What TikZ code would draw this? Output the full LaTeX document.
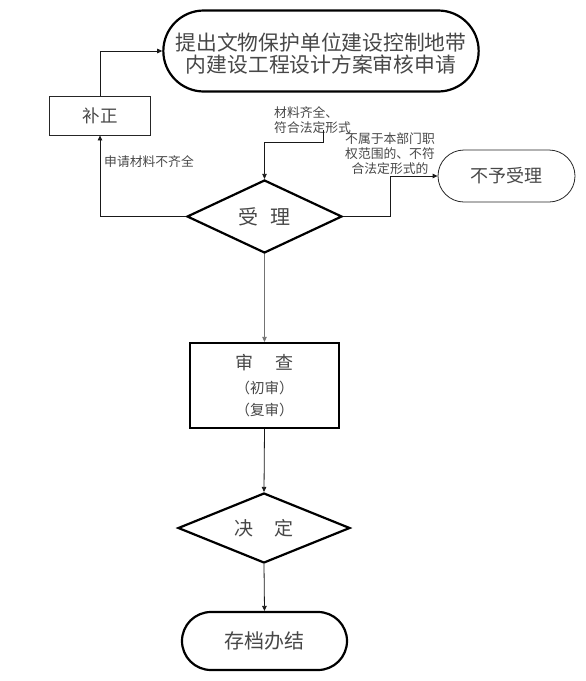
\documentclass[tikz,border=0pt]{standalone}
\usepackage{fontspec}
\setmainfont{Noto Sans CJK SC}
\usetikzlibrary{shapes.geometric,shapes.misc,arrows.meta}
\tikzset{
  thickln/.style={draw=black, line width=2.2pt},
  thinln/.style={draw=black!85, line width=0.8pt},
  txt/.style={text=black!72, inner sep=0pt},
  conn/.style={draw=black!90, line width=0.8pt, -{Triangle[length=5pt,width=4.5pt]}},
  lbl/.style={text=black!72, inner sep=0pt, font=\fontsize{12.8}{15}\selectfont},
}
\begin{document}
\begin{tikzpicture}[x=1pt,y=-1pt]
\useasboundingbox (0,0) rectangle (586,681);
\node[thickln, rounded rectangle, minimum width=322pt, minimum height=81pt] (top) at (321,51) {};
\node[txt, align=center, font=\fontsize{20.8}{22}\selectfont] (toptxt) at (321,54)
  {提出文物保护单位建设控制地带\\内建设工程设计方案审核申请};
\node[thinln, txt, rectangle, minimum width=101pt, minimum height=39pt,
      font=\fontsize{17.5}{20}\selectfont] (bz) at (100,115.5) {补正};
\node[thickln, txt, diamond, aspect=2.12, minimum width=155pt, minimum height=73pt,
      font=\fontsize{20}{22}\selectfont] (sl) at (264.5,216.5) {受\hspace{12pt}理};
\node[thinln, txt, rounded rectangle, minimum width=137pt, minimum height=52pt,
      font=\fontsize{18}{20}\selectfont] (by) at (506.5,176) {不予受理};
\node[thickln, txt, rectangle, minimum width=149pt, minimum height=85pt, align=center,
      font=\fontsize{14.5}{22}\selectfont] (sc) at (264.5,385.5)
  {{\fontsize{18}{20}\selectfont 审\hspace{23pt}查}\\[2pt]（初审）\\（复审）};
\node[thickln, txt, diamond, aspect=2.46, minimum width=172pt, minimum height=70pt,
      font=\fontsize{19}{21}\selectfont] (jd) at (264,528) {决\hspace{21pt}定};
\node[thickln, txt, rounded rectangle, minimum width=165pt, minimum height=58pt,
      font=\fontsize{20}{22}\selectfont] (cd) at (264.5,641) {存档办结};

\coordinate (c1) at (323,130);
\node[lbl, align=left, anchor=west] (l1) at (274,120.5) {材料齐全、\\符合法定形式};
\node[lbl, anchor=center] (l2) at (149,162) {申请材料不齐全};
\node[lbl, align=center] (l3) at (390,153.5) {不属于本部门职\\权范围的、不符\\合法定形式的};

\draw[conn] (sl.west) -| (bz.south);
\draw[conn] (bz.north) |- (top.west);
\draw[conn] (c1) -- ++(0,12) -| (sl.north);
\draw[conn] (sl.east) -- ++(47.5,0) |- (by.west);
\draw[conn, draw=black!55] (sl.south) -- (sc.north);
\draw[conn] (sc.south) -- (jd.north);
\draw[conn] (jd.south) -- (cd.north);
\end{tikzpicture}
\end{document}
